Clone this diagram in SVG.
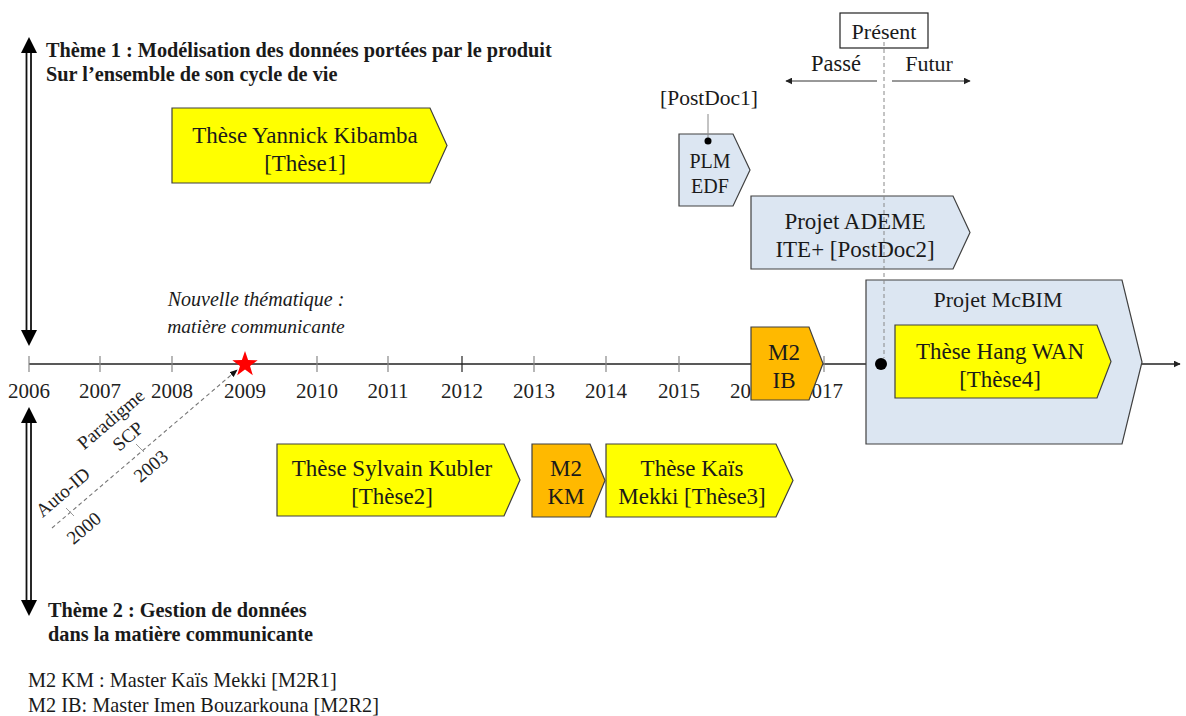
<svg xmlns="http://www.w3.org/2000/svg" width="1186" height="716" viewBox="0 0 1186 716">
<defs>
<style>
.t{font-family:"Liberation Serif","Times New Roman",serif;fill:#1a1a1a}
.box{font-size:23px;text-anchor:middle}
.yr{font-size:21px;text-anchor:middle;fill:#222}
.b{font-weight:bold;font-size:20.3px}
.rot{font-family:"Liberation Serif","Times New Roman",serif;font-size:19px;fill:#222;text-anchor:middle}
.yel{fill:#FFFF00;stroke:#404040;stroke-width:1.2}
.org{fill:#FFB900;stroke:#404040;stroke-width:1.2}
.blu{fill:#DCE6F2;stroke:#404040;stroke-width:1.2}
.tick{stroke:#888;stroke-width:1.2}
</style>
<marker id="ah" viewBox="0 0 10 10" refX="9" refY="5" markerWidth="7" markerHeight="7" orient="auto" markerUnits="userSpaceOnUse">
<path d="M0,0 L10,5 L0,10 z" fill="#222"/>
</marker>
<marker id="ahs" viewBox="0 0 10 10" refX="9" refY="5" markerWidth="8" markerHeight="8" orient="auto" markerUnits="userSpaceOnUse">
<path d="M0,1 L10,5 L0,9 z" fill="#111"/>
</marker>
</defs>
<rect width="1186" height="716" fill="#fff"/>

<g id="theme-arrows">
<g id="theme1-arrow">
<line x1="26.5" y1="50" x2="26.5" y2="332" stroke="#111" stroke-width="1.8"/>
<line x1="31" y1="50" x2="31" y2="332" stroke="#111" stroke-width="1.8"/>
<polygon points="29,37 21,53 37,53" fill="#000"/>
<polygon points="29,346 21,330 37,330" fill="#000"/>
</g>
<g id="theme2-arrow">
<line x1="26.5" y1="422" x2="26.5" y2="600" stroke="#111" stroke-width="1.8"/>
<line x1="31" y1="422" x2="31" y2="600" stroke="#111" stroke-width="1.8"/>
<polygon points="29,407 21,423 37,423" fill="#000"/>
<polygon points="29,616 21,600 37,600" fill="#000"/>
</g>
</g>

<g id="theme1-label">
<text class="t b" x="46" y="57">Thème 1 : Modélisation des données portées par le produit</text>
<text class="t b" x="46" y="81">Sur l’ensemble de son cycle de vie</text>
</g>
<g id="theme2-label">
<text class="t b" x="48" y="617">Thème 2 : Gestion de données</text>
<text class="t b" x="48" y="641">dans la matière communicante</text>
</g>
<g id="legend">
<text class="t" x="28" y="687" font-size="20.3">M2 KM : Master Kaïs Mekki [M2R1]</text>
<text class="t" x="28" y="712" font-size="20.3">M2 IB: Master Imen Bouzarkouna [M2R2]</text>
</g>

<g id="timeline">
<line x1="29" y1="364" x2="1180" y2="364" stroke="#222" stroke-width="1.3" marker-end="url(#ah)"/>
<g class="ticks">
<line class="tick" x1="29" y1="356" x2="29" y2="372"/>
<line class="tick" x1="100" y1="356" x2="100" y2="372"/>
<line class="tick" x1="172" y1="356" x2="172" y2="372"/>
<line class="tick" x1="317" y1="356" x2="317" y2="372"/>
<line class="tick" x1="388" y1="356" x2="388" y2="372"/>
<line x1="462" y1="356" x2="462" y2="372" stroke="#222" stroke-width="1.2"/>
<line class="tick" x1="534" y1="356" x2="534" y2="372"/>
<line class="tick" x1="606" y1="356" x2="606" y2="372"/>
<line class="tick" x1="679" y1="356" x2="679" y2="372"/>
<line class="tick" x1="824" y1="356" x2="824" y2="372"/>
</g>
<g class="years">
<text class="t yr" x="29" y="398">2006</text>
<text class="t yr" x="100" y="398">2007</text>
<text class="t yr" x="172" y="398">2008</text>
<text class="t yr" x="245" y="398">2009</text>
<text class="t yr" x="317" y="398">2010</text>
<text class="t yr" x="388" y="398">2011</text>
<text class="t yr" x="462" y="398">2012</text>
<text class="t yr" x="534" y="398">2013</text>
<text class="t yr" x="606" y="398">2014</text>
<text class="t yr" x="679" y="398">2015</text>
<text class="t yr" x="751" y="398">2016</text>
<text class="t yr" x="822" y="398">2017</text>
</g>
</g>

<g id="new-theme">
<text class="t" x="256" y="306" font-size="20" font-style="italic" text-anchor="middle" fill="#333">Nouvelle thématique :</text>
<text class="t" x="256" y="333" font-size="19.5" font-style="italic" text-anchor="middle" fill="#333">matière communicante</text>
<polygon id="star" points="245,351 248.1,360.1 257.7,360.2 250,366 252.8,375.2 245,369.6 237.2,375.2 240,366 232.3,360.2 241.9,360.1" fill="#FF0000"/>
</g>

<g id="history-labels">
<text class="rot" transform="translate(67,497) rotate(-40.5)">Auto-ID</text>
<text class="rot" transform="translate(88,533) rotate(-40.5)">2000</text>
<text class="rot" transform="translate(115,424) rotate(-40.5)">Paradigme</text>
<text class="rot" transform="translate(132,441) rotate(-40.5)">SCP</text>
<text class="rot" transform="translate(155,471) rotate(-40.5)">2003</text>
</g>

<g id="these1">
<polygon class="yel" points="172,108 430,108 447,145.5 430,183 172,183"/>
<text class="t box" x="305" y="143">Thèse Yannick Kibamba</text>
<text class="t box" x="305" y="171">[Thèse1]</text>
</g>

<g id="postdoc1">
<polygon class="blu" points="679,134 733,134 750,170 733,206 679,206"/>
<text class="t" x="709" y="105" font-size="21.5" text-anchor="middle">[PostDoc1]</text>
<text class="t" x="710" y="168" font-size="20" text-anchor="middle">PLM</text>
<text class="t" x="710" y="193" font-size="20" text-anchor="middle">EDF</text>
</g>

<g id="ademe">
<polygon class="blu" points="751,196 953,196 970,232.5 953,269 751,269"/>
<text class="t box" x="855" y="229">Projet ADEME</text>
<text class="t box" x="855" y="257">ITE+ [PostDoc2]</text>
</g>

<g id="present">
<rect x="840" y="13" width="88" height="35" fill="#fff" stroke="#222" stroke-width="1.2"/>
<text class="t" x="884" y="39" font-size="22" text-anchor="middle">Présent</text>
<text class="t" x="836" y="71" font-size="22.5" text-anchor="middle">Passé</text>
<text class="t" x="929" y="71" font-size="22" text-anchor="middle">Futur</text>
</g>

<g id="mcbim">
<polygon class="blu" points="866,280 1122,280 1142,362 1122,444 866,444"/>
<text class="t" x="998" y="307" font-size="22" text-anchor="middle">Projet McBIM</text>
</g>

<g id="these4">
<polygon class="yel" points="895,325 1097,325 1111,361.5 1097,398 895,398"/>
<text class="t box" x="1000" y="359">Thèse Hang WAN</text>
<text class="t box" x="1000" y="387">[Thèse4]</text>
</g>

<g id="m2ib">
<polygon class="org" points="751,327 809,327 823,363.5 809,400 751,400"/>
<text class="t box" x="784" y="360">M2</text>
<text class="t box" x="784" y="388">IB</text>
</g>

<g id="these2">
<polygon class="yel" points="277,444 504,444 520,480 504,516 277,516"/>
<text class="t box" x="392" y="476">Thèse Sylvain Kubler</text>
<text class="t box" x="392" y="504">[Thèse2]</text>
</g>

<g id="m2km">
<polygon class="org" points="532,444 590,444 605,480.5 590,517 532,517"/>
<text class="t box" x="566" y="476">M2</text>
<text class="t box" x="566" y="504">KM</text>
</g>

<g id="these3">
<polygon class="yel" points="606,444 776,444 793,480.5 776,517 606,517"/>
<text class="t box" x="692" y="476">Thèse Kaïs</text>
<text class="t box" x="692" y="504">Mekki [Thèse3]</text>
</g>

<g id="connectors">
<line x1="52" y1="528" x2="237" y2="370" stroke="#777" stroke-width="1.1" stroke-dasharray="4,3" marker-end="url(#ahs)"/>
<line x1="66" y1="508" x2="74" y2="516" stroke="#999" stroke-width="1"/>
<line x1="136" y1="444" x2="144" y2="452" stroke="#999" stroke-width="1"/>
<line x1="708" y1="114" x2="708" y2="141" stroke="#888" stroke-width="1"/>
<circle cx="708" cy="141" r="3.5" fill="#000"/>
<line x1="884" y1="42" x2="884" y2="358" stroke="#888" stroke-width="1" stroke-dasharray="4,3"/>
<circle cx="881" cy="364" r="6" fill="#000"/>
<line x1="877" y1="81" x2="786" y2="81" stroke="#333" stroke-width="1" marker-end="url(#ah)"/>
<line x1="892" y1="81" x2="970" y2="81" stroke="#333" stroke-width="1" marker-end="url(#ah)"/>
</g>
</svg>
